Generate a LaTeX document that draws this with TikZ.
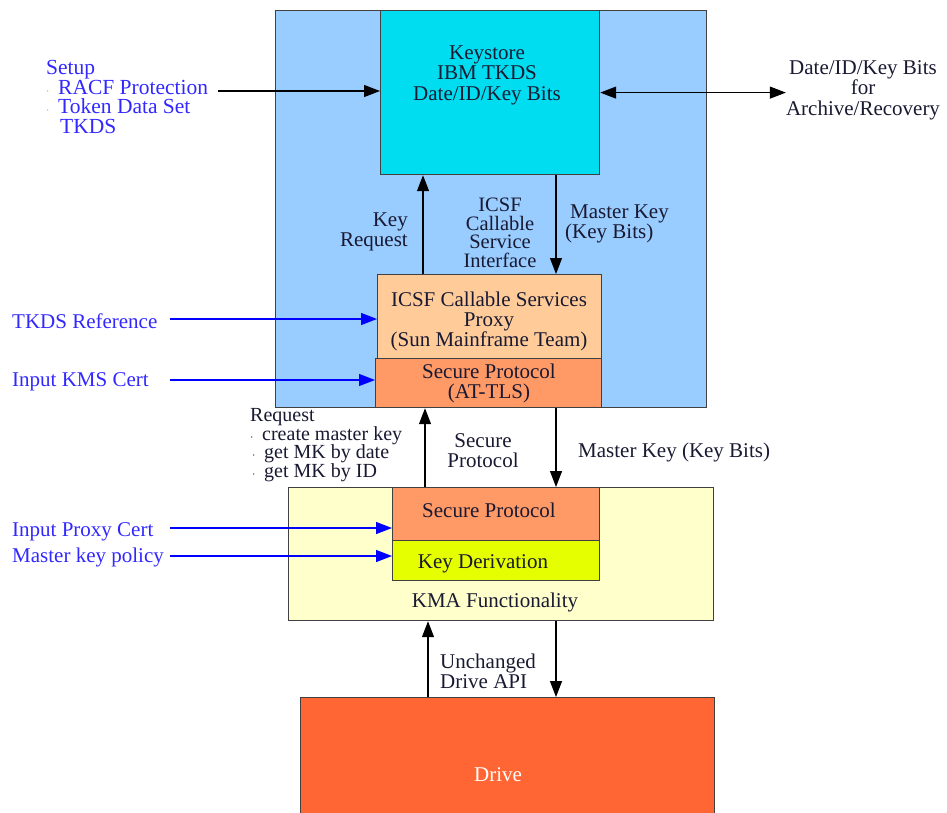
\documentclass[tikz,border=0pt]{standalone}
\usepackage{fontspec}
\setmainfont{Liberation Serif}
\usetikzlibrary{arrows.meta}
\definecolor{outerblue}{RGB}{153,204,255}
\definecolor{keycyan}{RGB}{0,221,240}
\definecolor{proxyc}{RGB}{255,204,153}
\definecolor{tlsc}{RGB}{255,153,102}
\definecolor{kmac}{RGB}{255,255,204}
\definecolor{kdc}{RGB}{230,255,0}
\definecolor{drivec}{RGB}{255,102,51}
\definecolor{txtc}{RGB}{25,25,50}
\definecolor{bluetxt}{RGB}{50,40,255}
\definecolor{bluearr}{RGB}{0,0,255}
\definecolor{bulletc}{RGB}{200,140,90}
\newcommand{\bdot}{\makebox[12pt][l]{\fontsize{12}{12}\selectfont$\cdot$}}
\begin{document}
\begin{tikzpicture}[x=1pt,y=-1pt,
  font=\fontsize{21}{20}\selectfont,
  box/.style={draw=black!75, line width=1.2pt, inner sep=0pt, anchor=north west},
  lbl/.style={text=txtc, inner sep=0pt},
  bl/.style={text=bluetxt, inner sep=0pt},
  arr/.style={-{Triangle[length=16pt,width=12pt]}, line width=1.2pt, draw=black},
  darr/.style={{Triangle[length=16pt,width=12pt]}-{Triangle[length=16pt,width=12pt]}, line width=1.2pt, draw=black},
  barr/.style={-{Triangle[length=16pt,width=12pt]}, line width=1.2pt, draw=bluearr}]
\useasboundingbox (0,0) rectangle (947,812);
% boxes
\node[box, fill=outerblue, minimum width=431pt, minimum height=397pt] (outer) at (275,10) {};
\node[box, fill=keycyan, minimum width=219pt, minimum height=164pt] (keystore) at (380,10) {};
\node[box, fill=proxyc, minimum width=224pt, minimum height=84pt] (proxy) at (377,274) {};
\node[box, fill=tlsc, minimum width=226pt, minimum height=49pt] (tls) at (375,358) {};
\node[box, fill=kmac, minimum width=425pt, minimum height=133pt] (kma) at (288,487) {};
\node[box, fill=tlsc, minimum width=207pt, minimum height=53pt] (sp2) at (392,487) {};
\node[box, fill=kdc, minimum width=207pt, minimum height=40pt] (kd) at (392,540) {};
\node[box, fill=drivec, minimum width=414pt, minimum height=118pt] (drive) at (300,697) {};
% box texts
\node[lbl, align=center, font=\fontsize{21}{20.5}\selectfont] (kst) at (487,75) {Keystore\\IBM TKDS\\Date/ID/Key Bits};
\node[lbl, align=center] (pxt) at (489,321) {ICSF Callable Services\\Proxy\\(Sun Mainframe Team)};
\node[lbl, align=center] (tlst) at (489,383) {Secure Protocol\\(AT-TLS)};
\node[lbl] (sp2t) at (489,510) {Secure Protocol};
\node[lbl] (kdt) at (483,564) {Key Derivation};
\node[lbl] (kmat) at (495,602) {KMA Functionality};
\node[inner sep=0pt, text=white] (drivet) at (498,775) {Drive};
% other labels
\node[bl, align=left, anchor=west, font=\fontsize{21.5}{19.5}\selectfont] (setup) at (46,97) {Setup\\{\color{bulletc}\bdot}RACF Protection\\{\color{bulletc}\bdot}Token Data Set\\\hspace*{14pt}TKDS};
\node[lbl, align=center, font=\fontsize{21}{20.5}\selectfont] (arch) at (863,90) {Date/ID/Key Bits\\for\\Archive/Recovery};
\node[lbl, align=right, anchor=east] (keyreq) at (408,232) {Key\\Request};
\node[lbl, align=center, font=\fontsize{20.5}{18.5}\selectfont] (icsf) at (500,233) {ICSF\\Callable\\Service\\Interface};
\node[lbl, align=left, anchor=west] (mk1) at (565,224) {\hspace*{5pt}Master Key\\(Key Bits)};
\node[bl, anchor=west] (tkdsref) at (12,321) {TKDS Reference};
\node[bl, anchor=west] (kmscert) at (12,382) {Input KMS Cert};
\node[bl, anchor=west] (proxycert) at (12,532) {Input Proxy Cert};
\node[bl, anchor=west] (mkpol) at (12,557) {Master key policy};
\node[lbl, align=left, anchor=west, font=\fontsize{20}{18.7}\selectfont] (req) at (250,445) {Request\\\bdot create master key\\\hspace*{2pt}\bdot get MK by date\\\hspace*{2pt}\bdot get MK by ID};
\node[lbl, align=center] (secp) at (483,451) {Secure\\Protocol};
\node[lbl, anchor=west] (mk2) at (578,452) {Master Key (Key Bits)};
\node[lbl, align=left, anchor=west] (unch) at (440,671) {Unchanged\\Drive API};
% coordinates
\coordinate (s1) at (218,91);
\coordinate (kx) at (423,0);
\coordinate (mx) at (556,0);
\coordinate (k2) at (425,0);
\coordinate (k3) at (428,0);
\coordinate (b1) at (170,319);
\coordinate (b2) at (170,380);
\coordinate (b3) at (170,528);
\coordinate (b4) at (170,556);
% connectors
\draw[arr] (s1) -- (s1 -| keystore.west);
\draw[darr] (keystore.east) -- (keystore.east -| arch.west);
\draw[arr] (proxy.north -| kx) -- (keystore.south -| kx);
\draw[arr] (keystore.south -| mx) -- (proxy.north -| mx);
\draw[arr] (sp2.north -| k2) -- (tls.south -| k2);
\draw[arr] (tls.south -| mx) -- (sp2.north -| mx);
\draw[arr] (drive.north -| k3) -- (kma.south -| k3);
\draw[arr] (kma.south -| mx) -- (drive.north -| mx);
\draw[barr] (b1) -- (b1 -| proxy.west);
\draw[barr] (b2) -- (b2 -| tls.west);
\draw[barr] (b3) -- (b3 -| sp2.west);
\draw[barr] (b4) -- (b4 -| kd.west);
\end{tikzpicture}
\end{document}
